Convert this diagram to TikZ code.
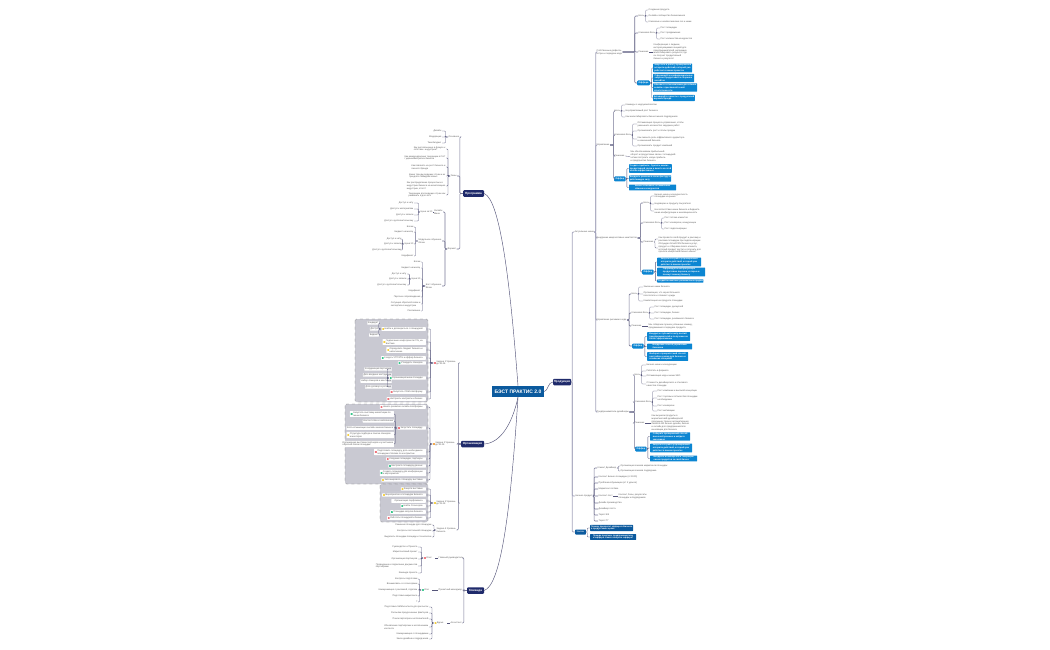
\documentclass[tikz,border=0pt]{standalone}
\usepackage{fontspec}
\setmainfont{Liberation Sans}
\usetikzlibrary{positioning, arrows.meta, calc}
\definecolor{navy}{HTML}{1F2A6B}
\definecolor{rootblue}{HTML}{0B5A9E}
\definecolor{offerblue}{HTML}{0C86D2}
\definecolor{linkgrey}{HTML}{55557A}
\definecolor{barlilac}{HTML}{A4A4BC}
\definecolor{panelgrey}{HTML}{C9C9D2}
\definecolor{flagred}{HTML}{F0727A}
\definecolor{flaggreen}{HTML}{35C78A}
\definecolor{flagyellow}{HTML}{F6CF3C}
\definecolor{flagorange}{HTML}{F4A23C}

\begin{document}
\begin{tikzpicture}[x=1pt, y=-1pt,
    every node/.style={font=\fontsize{2.3}{2.8}\selectfont, inner sep=.5pt, text=black!65},
    leafl/.style={anchor=east, align=left},
    leafr/.style={anchor=west, align=left},
    top/.style={rectangle, rounded corners=1pt, fill=navy, text=white, minimum height=6.5pt, font=\fontsize{3}{3.6}\bfseries\selectfont},
    choice/.style={rectangle, rounded corners=1pt, fill=offerblue, text=white, anchor=west, minimum height=5pt, inner xsep=1.5pt, font=\fontsize{2.3}{2.8}\bfseries\selectfont},
    offerbox/.style={rectangle, rounded corners=.5pt, fill=offerblue, text=white, anchor=west, align=left, inner sep=.6pt, font=\fontsize{2.2}{2.8}\bfseries\selectfont},
    tag/.style={rectangle, rounded corners=.4pt, fill=white, anchor=east, align=left, inner sep=.7pt},
    tagicon/.style={tag, inner xsep=3.2pt, path picture={\fill[#1] ([xshift=1.7pt]path picture bounding box.west) +(-.9,-.9) rectangle +(.9,.9);}},
    panel/.style={draw=black!55, dashed, line width=.3pt, fill=panelgrey, rounded corners=1.5pt},
    lnk/.style={draw=linkgrey, line width=.3pt, rounded corners=.8pt},
    bar/.style={draw=barlilac, line width=.8pt, rounded corners=1pt},
    mainbar/.style={draw=linkgrey!80, line width=.55pt, rounded corners=1pt},
    curve/.style={draw=linkgrey, line width=.45pt}]

  \useasboundingbox (0,0) rectangle (1050,650);

  % grey task panels
  \draw[panel] (355,319) rectangle (428,402);
  \draw[panel] (345,404) rectangle (428,484);
  \draw[panel] (380,484) rectangle (428,522);

  % centre
  \node[rectangle, fill=rootblue, text=white, minimum width=52pt, minimum height=11pt, font=\fontsize{5}{6}\bfseries\selectfont] (root) at (518,391.5) {БЭСТ ПРАКТИС 2.0};
  \node[top, minimum width=21pt] (prog) at (473.5,193.5) {Программа};
  \node[top, minimum width=23pt] (orga) at (472.5,444) {Организация};
  \node[top, minimum width=18pt] (prod) at (562,382) {Продукция};
  \node[top, minimum width=17pt] (team) at (475.5,590.5) {Команда};

  \draw[curve] (prog.east) .. controls (500,200) and (510,280) .. (root.north);
  \draw[curve] (orga.east) .. controls (500,443) and (512,425) .. (root.south);
  \draw[curve] (team.east) .. controls (500,585) and (510,520) .. (root.south);
  \draw[curve] (root.east) .. controls (548,391) and (548,382) .. (prod.west);

  % programme
  \node[leafr] (osn) at (448,137) {Основное};
  \node[leafr] (tem) at (450,176) {Темы};
  \node[leafr] (frm) at (447,249) {Формат};
  \foreach \n/\y/\t in {o1/131/{Дизайн}, o2/137/{Модерация}, o3/143/{Тим-билдинг}}
    \node[leafl] (\n) at (442,\y) {\t};
  \foreach \n/\y/\t in {t1/149/{Как англоязычные в фокусе к\\собствен. индустрии?}, t2/158/{Как международные тенденции в СНГ\\/ украинский рынок бизнеса}, t3/167/{Как повлиять на рост бизнеса и\\личного бренда}, t4/176/{Какие тренды ведущих стран и их\\трендов в геймдеве новых}, t5/186/{Как распределение процентных в\\индустрии бизнеса на монетизацию\\индустрии, этого?}, t6/195/{Тенденции для ведущих стран как\\развивать и для чего}}
    \node[leafl] (\n) at (446,\y) {\t};
  \foreach \k in {osn,tem,frm} \draw[mainbar] (prog.west) -- ++(-3,0) |- (\k.east);
  \foreach \k in {o1,o2,o3} \draw[lnk] (osn.west) -- ++(-2.5,0) |- (\k.east);
  \foreach \k in {t1,t2,t3,t4,t5,t6} \draw[lnk] (tem.west) -- ++(-2,0) |- (\k.east);

  \node[leafl] (mini) at (443,212) {Онлайн\\Мини};
  \node[leafl] (modu) at (442,241) {Модульное обучение\\блоки};
  \node[leafl] (best) at (442,286) {Бэст обучение\\блоки};
  \foreach \k in {mini,modu,best} \draw[mainbar] (frm.west) -- ++(-2,0) |- (\k.east);

  \node[leafl] (mprice) at (433,212) {Цена за 30};
  \draw[lnk] (mini.west) -- (mprice.east);
  \foreach \n/\y/\t in {m1/203/{Доступ к чату}, m2/209/{Доступ к материалам}, m3/215/{Доступ к записи}, m4/221/{Доступ к дополнительному}}
    \node[leafl] (\n) at (414,\y) {\t};
  \foreach \k in {m1,m2,m3,m4} \draw[lnk] (mprice.west) -- ++(-1.5,0) |- (\k.east);

  \foreach \n/\y/\t in {d1/227/{Блоки}, d2/232/{Бюджет на месяц}, dprice/244/{Цена 30}, d3/256/{Кодификат}}
    \node[leafl] (\n) at (414,\y) {\t};
  \foreach \n/\y/\t in {dp1/239/{Доступ к чату}, dp2/244/{Доступ к записи}, dp3/250/{Доступ к дополнительному}}
    \node[leafl] (\n) at (402,\y) {\t};
  \foreach \k in {d1,d2,dprice,d3} \draw[lnk] (modu.west) -- ++(-2.5,0) |- (\k.east);
  \foreach \k in {dp1,dp2,dp3} \draw[lnk] (dprice.west) -- ++(-1.5,0) |- (\k.east);

  \foreach \n/\y/\t in {b1/262/{Блоки}, b2/268/{Бюджет на месяц}, bprice/279/{Цена 30}, b3/291/{Кодификат}, b4/297/{Персона сопровождения}, b5/304/{Ситуация обратной связи и\\экспертиза в индустрии}, b6/311/{Расписание}}
    \node[leafl] (\n) at (421,\y) {\t};
  \foreach \n/\y/\t in {bp1/274/{Доступ к чату}, bp2/279/{Доступ к записи}, bp3/285/{Доступ к дополнительному}}
    \node[leafl] (\n) at (407,\y) {\t};
  \foreach \k in {b1,b2,bprice,b3,b4,b5,b6} \draw[lnk] (best.west) -- ++(-2.5,0) |- (\k.east);
  \foreach \k in {bp1,bp2,bp3} \draw[lnk] (bprice.west) -- ++(-1.5,0) |- (\k.east);

  % organisation, tasks
  \node[tagicon=flagred, anchor=west] (task1) at (433,363) {Задача 1 Уровень\\до 30.06};
  \node[tagicon=flagorange, anchor=west] (task2) at (432,444) {Задача 2 Уровень\\до 30.09};
  \node[tagicon=flagyellow, anchor=west] (task3) at (433,503) {Задача 3 Уровень\\до 31.09};
  \node[leafr] (task4) at (436,530) {Задача 4 Уровень\\бизнеса};
  \foreach \k in {task1,task2,task3,task4} \draw[mainbar] (orga.west) -- ++(-2.5,0) |- (\k.east);

  \foreach \n/\y/\c/\t in {p1/329/flagyellow/{Найти и договориться с площадкой}, p2/342/flagyellow/{Подписание конф.проекта СТЦ на\\Балтике}, p3/350/flagyellow/{Определить бюджет бизнеса и\\наполнение}, p4/358/flaggreen/{Создать УТП/УТБ и оффер бизнеса}, p5/363/flaggreen/{Утвердить спикеров}, p6/378/flaggreen/{Организация мини-площади}, p7/392/flagred/{Запустить CRM-платформу}, p8/399/flagred/{Настроить контракты и бизнес}}
    \node[tagicon=\c] (\n) at (426,\y) {\t};
  \foreach \n/\y/\t in {p11/323/{Кандидат}, p12/329/{Доступ}, p13/335/{Бюджет}}
    \node[tag] (\n) at (379,\y) {\t};
  \foreach \n/\y/\t in {p61/369/{Координация партнеров}, p62/375/{Дать вводные инструкции}, p63/381/{Набор спикеров и менторов}, p64/387/{Дать договор и условия}}
    \node[tag] (\n) at (392,\y) {\t};
  \foreach \k in {p1,p2,p3,p4,p5,p6,p7,p8} \draw[lnk] (task1.west) -- ++(-2.5,0) |- (\k.east);
  \foreach \k in {p11,p12,p13} \draw[lnk] (p1.west) -- ++(-2.5,0) |- (\k.east);
  \foreach \k in {p61,p62,p63,p64} \draw[lnk] (p6.west) -- ++(-1.5,0) |- (\k.east);

  \foreach \n/\y/\c/\t in {q1/407/flagred/{Начать развитие онлайн-платформы}, q2/428/flagred/{Запустить площадку}, q3/452/flagred/{Подготовить площадку, дать необходимое\\площадки в Москве по контрактам}, q4/459/flagred/{Создание площадки, партнеры}, q5/466/flaggreen/{Настроить площадку данных}, q6/473/flaggreen/{Создать площадку для конференции\\и мероприятия}, q7/480/flagyellow/{Запланировать площадку выставки}}
    \node[tagicon=\c] (\n) at (426,\y) {\t};
  \node[tagicon=flaggreen] (q21) at (394,414) {Запустить выставку-инвестиции по\\линии бизнеса};
  \node[tag] (q22) at (394,421) {Контент-план и наполнение};
  \node[tag] (q23) at (394,428) {SEO-оптимизация онлайн-заказов бизнеса};
  \node[tagicon=flagyellow] (q24) at (394,435) {Структура подбора и поиска спикеров\\и менторов};
  \node[tag] (q25) at (394,444) {Организация выставки партнеров и участников\\обратной связи площадки};
  \foreach \k in {q1,q2,q3,q4,q5,q6,q7} \draw[lnk] (task2.west) -- ++(-2,0) |- (\k.east);
  \foreach \k in {q21,q22,q23,q24,q25} \draw[lnk] (q2.west) -- ++(-2,0) |- (\k.east);

  \foreach \n/\y/\c/\t in {s1/489/flagyellow/{Защита выставки}, s2/495/flagyellow/{Мероприятие и площадки Бизнеса}, s3/501/white/{Организация перфоманса}, s4/506/flaggreen/{Найти Спонсоров}, s5/512/flaggreen/{Площадка запуска бизнеса}, s6/518/flagred/{Работать площадкой и бизнес}}
    \node[tagicon=\c] (\n) at (426,\y) {\t};
  \foreach \k in {s1,s2,s3,s4,s5,s6} \draw[lnk] (task3.west) -- ++(-2.5,0) |- (\k.east);

  \foreach \n/\y/\t in {u1/525/{Решение площади для площадки}, u2/531/{Контроль постоянной площадки}, u3/537/{Выделить площадки площади и технологии}}
    \node[leafl] (\n) at (432,\y) {\t};
  \foreach \k in {u1,u2,u3} \draw[lnk] (task4.west) -- ++(-2,0) |- (\k.east);

  % team
  \node[leafr] (lead) at (438,558) {Главный руководитель};
  \node[leafr] (pm) at (438,590) {Проектный менеджер};
  \node[leafr] (asst) at (450,623) {Ассистент};
  \foreach \k in {lead,pm,asst} \draw[mainbar] (team.west) -- ++(-3,0) |- (\k.east);
  \node[tagicon=flagred, anchor=west] (oleg) at (423,558) {Олег};
  \node[tagicon=flaggreen, anchor=west] (olya) at (421,590) {Оля};
  \node[tagicon=flagyellow, anchor=west] (dasha) at (433.5,623) {Дарья};
  \draw[lnk] (lead.west) -- (oleg.east);
  \draw[lnk] (pm.west) -- (olya.east);
  \draw[lnk] (asst.west) -- (dasha.east);
  \foreach \n/\y/\t in {l1/547/{Руководство и Проекта}, l2/552/{Маркетинговый проект}, l3/559/{Организация партнеров}, l4/566/{Проведение и подписание документов\\партнёрами}, l5/573/{Команда проекта}}
    \node[leafl] (\n) at (418,\y) {\t};
  \foreach \k in {l1,l2,l3,l4,l5} \draw[lnk] (oleg.west) -- ++(-1.5,0) |- (\k.east);
  \foreach \n/\y/\t in {k1/579/{Контроль подготовки}, k2/584/{Взаимосвязь со спонсорами}, k3/590/{Коммуникация с рекламой, отделом}, k4/596/{Подготовка маркетинга}, k5/602/{?}}
    \node[leafl] (\n) at (418,\y) {\t};
  \foreach \k in {k1,k2,k3,k4,k5} \draw[lnk] (olya.west) -- ++(-1.5,0) |- (\k.east);
  \foreach \n/\y/\t in {h1/607/{Подготовка SMM-контента для рассылок}, h2/613/{Рассылки приуроченных факторов}, h3/619/{Поиск партнёров и исполнителей}, h4/627/{Обновление партнёрских и исполнением\\контента}, h5/634/{Коммуникация с площадками}, h6/639/{Заказ дизайна и подрядчиков}}
    \node[leafl] (\n) at (429,\y) {\t};
  \foreach \k in {h1,h2,h3,h4,h5,h6} \draw[lnk] (dasha.west) -- ++(-1.5,0) |- (\k.east);

  % product, first levels
  \node[leafr] (actual) at (574,232) {Актуальные ниши};
  \node[leafr] (prodbiz) at (575,496) {Бизнес-продукт};
  \node[rectangle, rounded corners=.6pt, fill=rootblue, text=white, anchor=west, minimum height=5pt, inner xsep=1.5pt] (orders) at (575,532) {Заказы};
  \foreach \k in {actual,prodbiz,orders} \draw[bar] (prod.east) -- ++(1,0) |- (\k.west);
  \foreach \n/\e/\y/\t in {gA/12/52/{Собственные дефекты-\\встреч и передачи кода}, gB/3.5/145/{Управление}, gC/3/238/{Внедрение микросетевых ниш/тестов}, gD/2/320/{Управление рисками в коде}, gE/5/412/{Предприниматели-дизайнеры}}
    \node[leafr] (\n) at (596,\y) {\t};
  \foreach \k in {gA,gB,gC,gD,gE} \draw[bar] (actual.east) -- ++(1.2,0) |- (\k.west);

  % group A
  \node[leafr] (aPain) at (638,16) {Боль};
  \node[leafr] (aKey) at (638,33) {Ключевая боль};
  \node[leafr] (aSol) at (638,52) {Решение};
  \node[choice] (aOff) at (637,83) {Оффера};
  \foreach \k in {aPain,aKey,aSol,aOff} \draw[mainbar] (gA.east) -- ++(12,0) |- (\k.west);
  \foreach \n/\y/\t in {a1/10/{Создание продукта}, a2/16/{Онлайн-сообщество бизнесменов}, a3/22/{Ключевые и неклассические гео и ниши}}
    \node[leafr] (\n) at (648,\y) {\t};
  \foreach \k in {a1,a2,a3} \draw[lnk] (aPain.east) -- ++(1,0) |- (\k.west);
  \foreach \n/\y/\t in {a4/28/{Рост площадки}, a5/33/{Рост продвижения}, a6/39/{Рост количества конкурентов}}
    \node[leafr] (\n) at (660,\y) {\t};
  \foreach \k in {a4,a5,a6} \draw[lnk] (aKey.east) -- ++(1,0) |- (\k.west);
  \node[leafr] (a7) at (653,52) {Конференция с людьми,\\интересующимися акцией для\\предпринимателей, желающих\\масштабировать результат, где\\он получит продуктивный\\бизнес и результат};
  \draw[lnk] (aSol.east) -- (a7.west);
  \foreach \n/\y/\w/\t in {a8/68/39/{Запустите в работу проверенный\\алгоритм действий, который уже\\работает в ваших проектах}, a9/78/41/{Сформируйте конфиденциальные\\запросы продуктивного сборника\\инсайтов}, a10/87.5/44/{Обновите сотни кампании для обмена\\онлайн с присланной зоной\\ответственности}, a11/98/41/{Активируйте проекты с продуктовой\\воронки бренда}}
    \node[offerbox, minimum width=\w pt] (\n) at (653,\y) {\t};
  \foreach \k in {a8,a9,a10,a11} \draw[lnk] (aOff.east) -- ++(1.5,0) |- (\k.west);

  % group B
  \node[leafr] (bPain) at (614,111) {Боль};
  \node[leafr] (bKey) at (614,135) {Ключевая боль};
  \node[leafr] (bSol) at (614,156) {Решение};
  \node[choice] (bOff) at (614,179) {Оффер};
  \foreach \k in {bPain,bKey,bSol,bOff} \draw[mainbar] (gB.east) -- ++(3.5,0) |- (\k.west);
  \foreach \n/\y/\t in {bb1/105/{Команды с недоукомплектом}, bb2/111/{Неуправляемый рост бизнеса}, bb3/117/{Как масштабировать бизнес меняя подрядчиков}}
    \node[leafr] (\n) at (625,\y) {\t};
  \foreach \k in {bb1,bb2,bb3} \draw[lnk] (bPain.east) -- ++(1,0) |- (\k.west);
  \foreach \n/\y/\t in {bb4/124/{Оптимизация процесса управления, чтобы\\уменьшить количество задержек работ}, bb5/131/{Организовать рост и этапы продаж}, bb6/139/{Как сменить роль эффективного директора\\и изменений бизнеса}, bb7/146/{Организовать продукт компаний}}
    \node[leafr] (\n) at (637,\y) {\t};
  \foreach \k in {bb4,bb5,bb6,bb7} \draw[lnk] (bKey.east) -- ++(1,0) |- (\k.west);
  \node[leafr] (bb8) at (630,156.5) {Мы обеспечиваем прибыльный\\оборот и продуктовые связи с площадкой\\хотим построить новую прибыль\\и предприятия бизнеса};
  \draw[lnk] (bSol.east) -- (bb8.west);
  \foreach \n/\y/\w/\t in {bb9/168.5/42/{Создать прибыль. Сделать анализ\\продуктивной связи и вместе на этой\\основе эффективные}, bb10/178.5/42/{Внедрить решение в свою фактуру и\\работающую силу}, bb11/187.5/47/{Бизнес ключевых оптимальных\\обмена и конкурентов}}
    \node[offerbox, minimum width=\w pt] (\n) at (629,\y) {\t};
  \foreach \k in {bb9,bb10,bb11} \draw[lnk] (bOff.east) -- ++(1,0) |- (\k.west);

  % group C
  \node[leafr] (cPain) at (643,203) {Боль};
  \node[leafr] (cKey) at (643,223) {Ключевая боль};
  \node[leafr] (cSol) at (643,242) {Решение};
  \node[choice] (cOff) at (642,272) {Оффер};
  \foreach \k in {cPain,cKey,cSol,cOff} \draw[mainbar] (gC.east) -- ++(3,0) |- (\k.west);
  \foreach \n/\y/\t in {c1/196/{Бизнес-ниша и конкурентность\\площадки на рынке}, c2/204/{Недоверие к продукту покупателя}, c3/211/{Несоответствие ниши бизнеса и бюджета\\ниша конфигурации и инновационность}}
    \node[leafr] (\n) at (654,\y) {\t};
  \foreach \k in {c1,c2,c3} \draw[lnk] (cPain.east) -- ++(1,0) |- (\k.west);
  \foreach \n/\y/\t in {c4/218/{Рост потока клиентов}, c5/223/{Рост конверсии, конкуренции}, c6/229/{Рост лидогенерации}}
    \node[leafr] (\n) at (664,\y) {\t};
  \foreach \k in {c4,c5,c6} \draw[lnk] (cKey.east) -- ++(1,0) |- (\k.west);
  \foreach \n/\y/\t in {c7/239/{Как провести свой продукт и рекламу и\\реклама площадки при лидогенерации}, c8/248/{Обсуждая SmartCRM бизнеса-услуг,\\продукт и отбираем своего клиента,\\который продукт достиг и получить для\\проекта конкретный бизнес-клиент}}
    \node[leafr] (\n) at (658,\y) {\t};
  \foreach \k in {c7,c8} \draw[lnk] (cSol.east) -- ++(1,0) |- (\k.west);
  \foreach \n/\y/\w/\t in {c9/262/44/{Запустите в работу проверенный\\алгоритм действий, который уже\\работает в ваших проектах}, c10/272/48/{Сформируйте интересующие\\продуктовые воронки, которые и\\покажут вашему бизнесу}, c11/281/46/{Создайте комплекс релевантных продаж}}
    \node[offerbox, minimum width=\w pt] (\n) at (657,\y) {\t};
  \foreach \k in {c9,c10,c11} \draw[lnk] (cOff.east) -- ++(1.5,0) |- (\k.west);

  % group D
  \node[leafr] (dPain) at (631,294) {Боль};
  \node[leafr] (dKey) at (631,313) {Ключевая боль};
  \node[leafr] (dSol) at (631,326) {Решение};
  \node[choice] (dOff) at (632,346) {Оффер};
  \foreach \k in {dPain,dKey,dSol,dOff} \draw[mainbar] (gD.east) -- ++(2,0) |- (\k.west);
  \foreach \n/\y/\t in {dd1/287/{Заказные ниши бизнеса}, dd2/294/{Организация, что через большого\\посетителя и отвечает нужды}, dd3/301/{Компетенция на продукте площадки}}
    \node[leafr] (\n) at (643,\y) {\t};
  \foreach \k in {dd1,dd2,dd3} \draw[lnk] (dPain.east) -- ++(1,0) |- (\k.west);
  \foreach \n/\y/\t in {dd4/307/{Рост площадки, дискуссий}, dd5/313/{Рост площадки, бизнес}, dd6/319/{Рост площадки, рекламного бизнеса}}
    \node[leafr] (\n) at (654,\y) {\t};
  \foreach \k in {dd4,dd5,dd6} \draw[lnk] (dKey.east) -- ++(1,0) |- (\k.west);
  \node[leafr] (dd7) at (648,326) {Мы собираем лучших успешных команд,\\продвижения в передаче продукта};
  \draw[lnk] (dSol.east) -- (dd7.west);
  \foreach \n/\y/\w/\t in {dd8/336.5/43/{Внедрите глубокий спектр взятий\\предпринимателей и получение на\\более эффективные}, dd9/346.5/45/{Внедрение способ управления\\бизнесом}, dd10/356.5/41/{Выберите приоритетный способ\\настройки команд для бизнеса и\\вложения обещаний}}
    \node[offerbox, minimum width=\w pt] (\n) at (647,\y) {\t};
  \foreach \k in {dd8,dd9,dd10} \draw[lnk] (dOff.east) -- ++(1,0) |- (\k.west);

  % group E
  \node[leafr] (ePain) at (634,375) {Боль};
  \node[leafr] (eKey) at (634,402) {Ключевая боль};
  \node[leafr] (eSol) at (634,423) {Решение};
  \node[choice] (eOff) at (635,449) {Оффер};
  \foreach \k in {ePain,eKey,eSol,eOff} \draw[mainbar] (gE.east) -- ++(5,0) |- (\k.west);
  \foreach \n/\y/\t in {e1/365/{Бизнес-ниши и конкуренции}, e2/371/{Работать в формате}, e3/376/{Оптимизация кода и ниши SEO}, e4/384/{Стоимость дизайнерского и стилевого\\качества площади}}
    \node[leafr] (\n) at (646,\y) {\t};
  \foreach \k in {e1,e2,e3,e4} \draw[lnk] (ePain.east) -- ++(1,0) |- (\k.west);
  \foreach \n/\y/\t in {e5/391/{Рост компании и высокой концепции}, e6/398/{Рост торговых потоков без площадки\\необходимых}, e7/406/{Рост конверсии}, e8/411/{Рост мотивации}}
    \node[leafr] (\n) at (657,\y) {\t};
  \foreach \k in {e5,e6,e7,e8} \draw[lnk] (eKey.east) -- ++(1,0) |- (\k.west);
  \node[leafr] (e9) at (651,423) {Как выучили продукты в\\маркетинговой дизайнерской\\продукции: бизнес-автоматизация\\бизнеса ИИ бизнес-дизайн, бизнес\\и онлайн для предпринимателя\\инновации для бизнеса};
  \draw[lnk] (eSol.east) -- (e9.west);
  \foreach \n/\y/\w/\t in {e10/436.5/40/{Соберите проверенный способ\\высокообученных и найдите\\заказчиков}, e11/448/42/{Запустите в работу проверенный\\алгоритм действий, который уже\\работает в ваших проектах}, e12/458.5/47/{Внедрите в конвере ИИ и генерацию\\своих продуктов за свой бизнес}}
    \node[offerbox, minimum width=\w pt] (\n) at (650,\y) {\t};
  \foreach \k in {e10,e11,e12} \draw[lnk] (eOff.east) -- ++(1,0) |- (\k.west);

  % product, lower part
  \node[leafr] (fA) at (597,468) {Клиент Дизайнер};
  \node[leafr] (fB) at (598,496) {Контент пост};
  \foreach \n/\y/\t in {f1/477/{Контент Бизнес-площадки (от 3000)}, f2/483/{Проблема обучающая (от 3 уроков)}, f3/489/{Маркетинг по базе}, f4/503/{Дизайн производства}, f5/509/{Дизайнер поста}, f6/515/{Таргет ВК}, f7/521/{Таргет ТГ}}
    \node[leafr] (\n) at (598,\y) {\t};
  \foreach \k in {fA,fB,f1,f2,f3,f4,f5,f6,f7} \draw[mainbar] (prodbiz.east) -- ++(1,0) |- (\k.west);
  \foreach \n/\y/\t in {f8/466/{Организация заказов маркетинга площадок}, f9/471/{Организация заказов подрядчика}}
    \node[leafr] (\n) at (620,\y) {\t};
  \foreach \k in {f8,f9} \draw[lnk] (fA.east) -- ++(1.5,0) |- (\k.west);
  \node[leafr] (f10) at (618,496) {Контент, базы, результаты\\площадок и подрядчиков};
  \draw[lnk] (fB.east) -- (f10.west);
  \node[offerbox, fill=rootblue, minimum width=43pt] (g1) at (590,528) {Почему приоритет оффера в Бизнесе\\в продуктовых целях};
  \node[offerbox, fill=rootblue, minimum width=46pt] (g2) at (590,537) {Прежде практики, предприниматели\\и оффера. Какого вопроса оффера?};
  \foreach \k in {g1,g2} \draw[lnk] (orders.east) -- ++(1.2,0) |- (\k.west);
\end{tikzpicture}
\end{document}
